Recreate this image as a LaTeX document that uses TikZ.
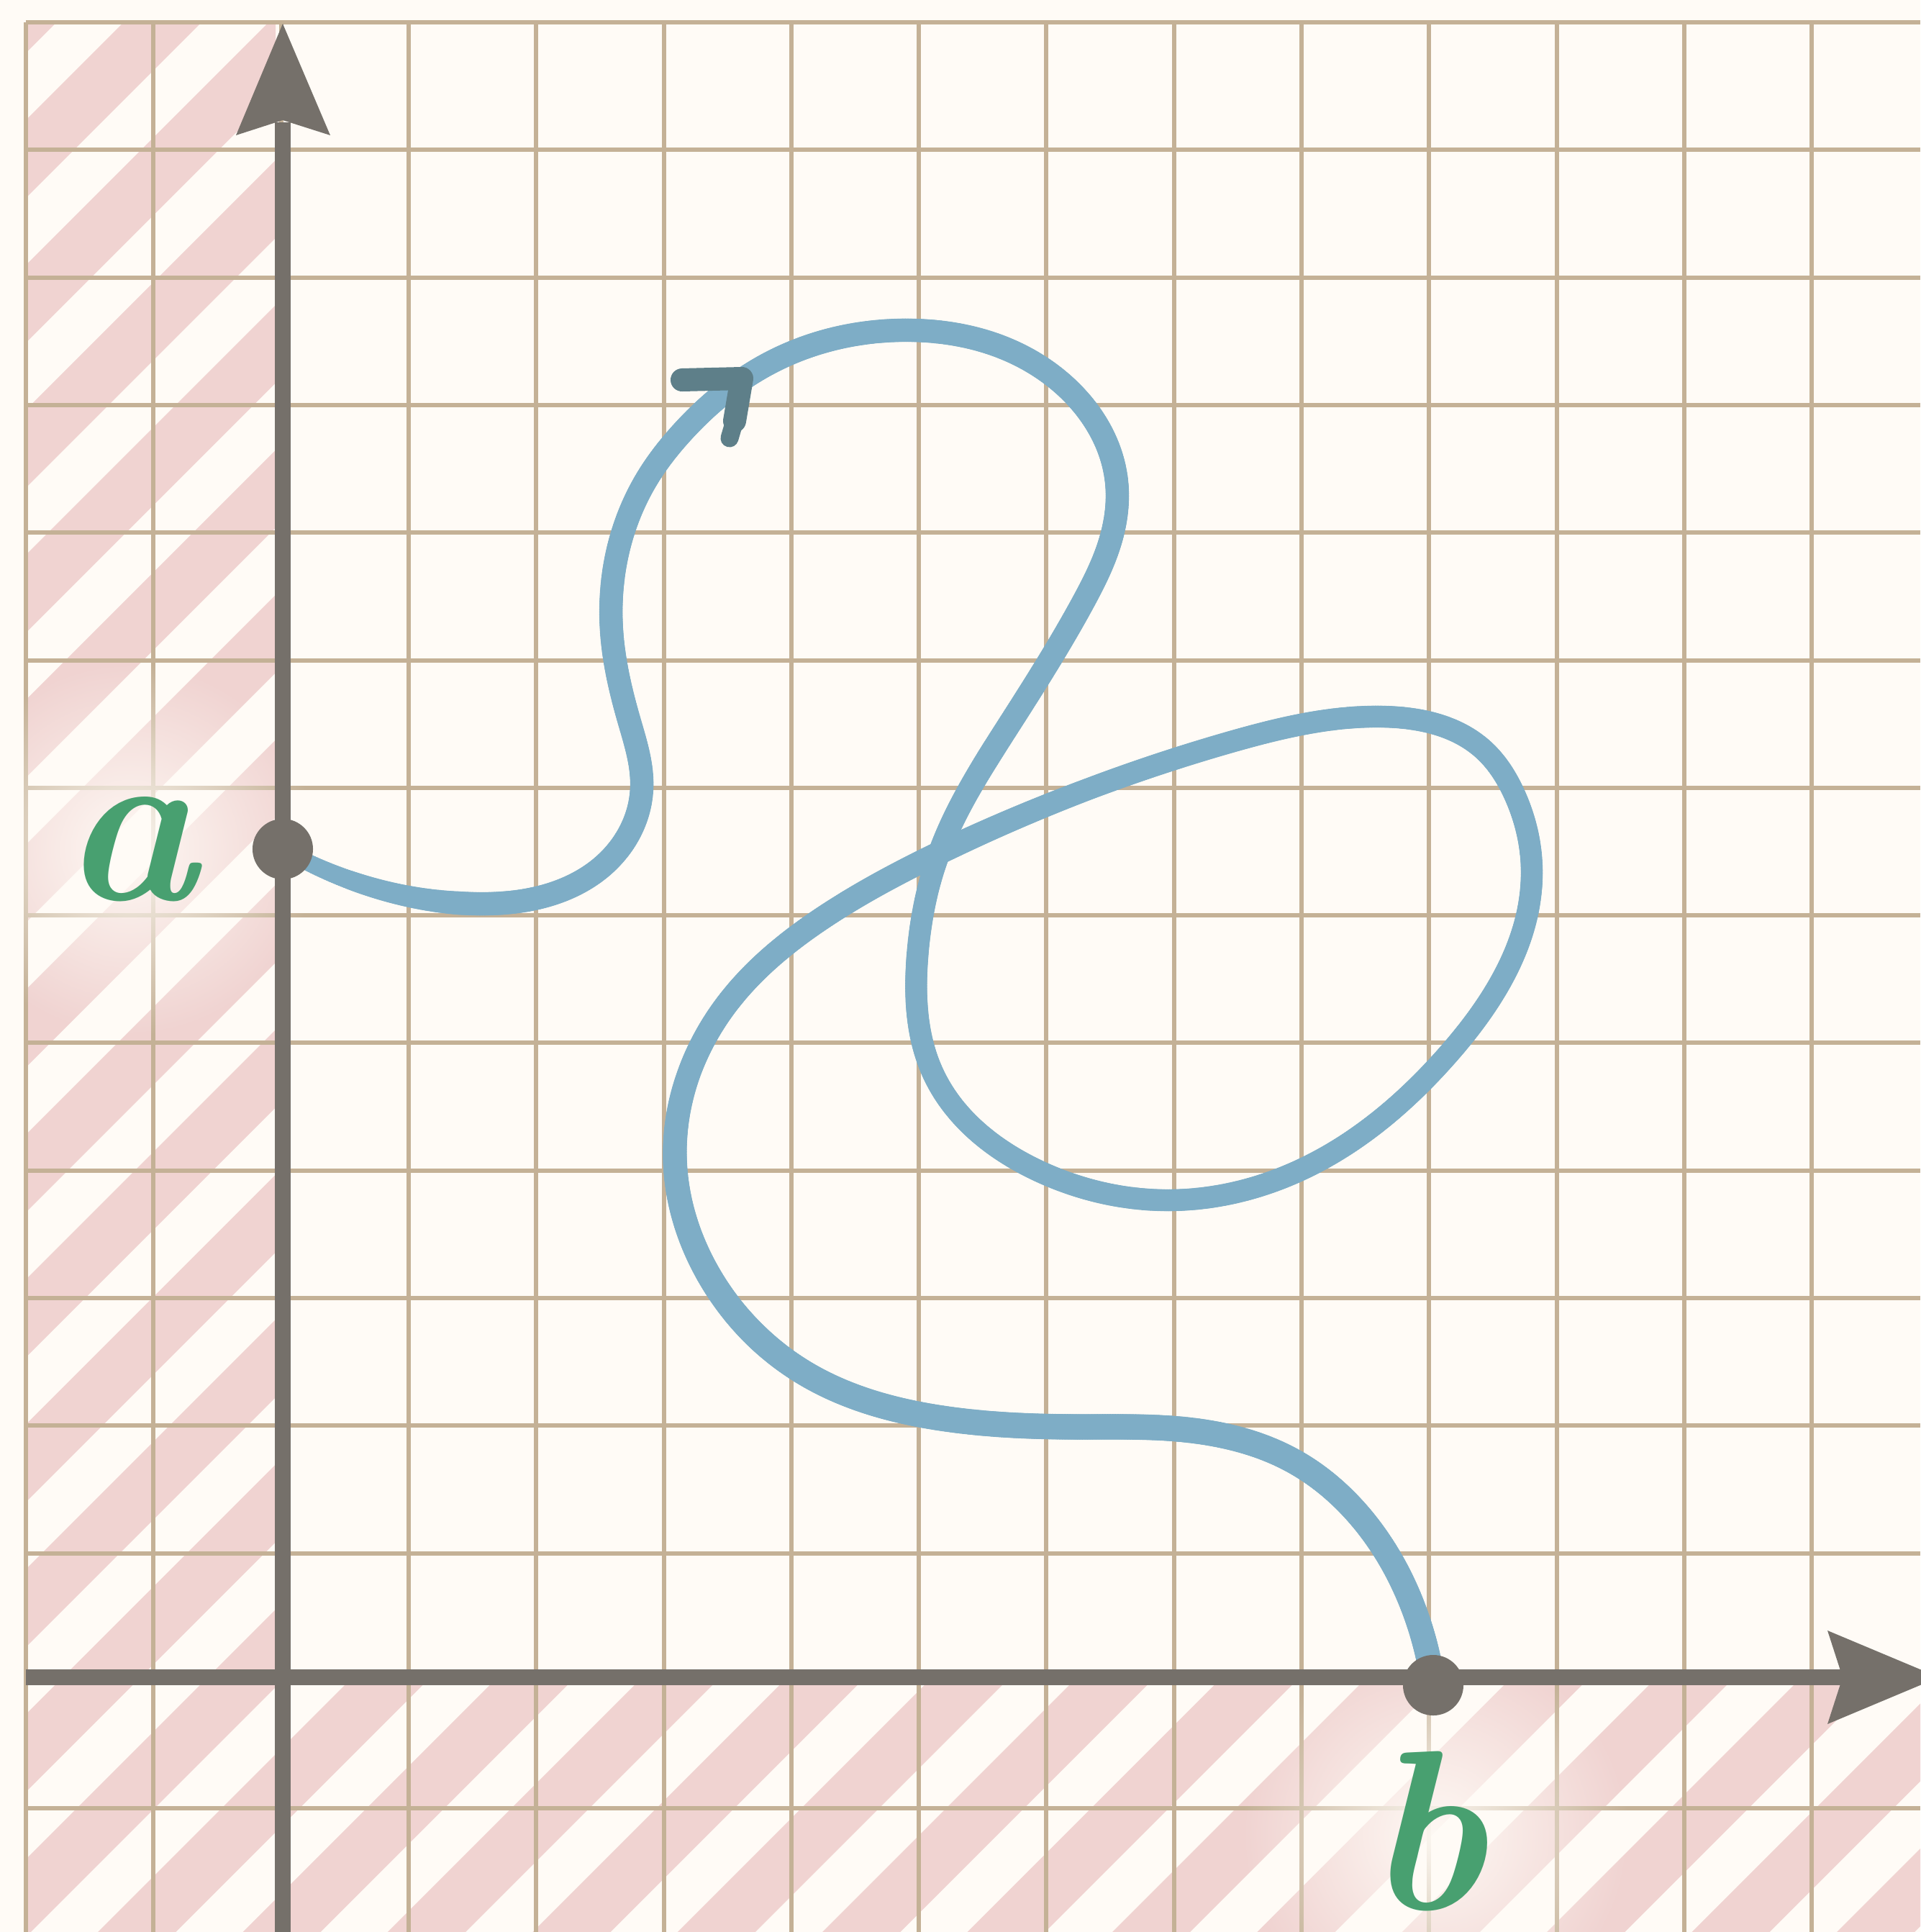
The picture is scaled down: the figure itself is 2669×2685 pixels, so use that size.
\documentclass[tikz,border=0pt]{standalone}
\usepackage{fontspec}
\usetikzlibrary{calc,fadings,hobby,decorations.markings}

\definecolor{bg}{HTML}{FFFBF6}
\definecolor{gridc}{HTML}{C4B196}
\definecolor{pinkc}{HTML}{F0D3D1}
\definecolor{axisc}{HTML}{75706A}
\definecolor{curvec}{HTML}{7EADC6}
\definecolor{arrowc}{HTML}{5E7F89}
\definecolor{labc}{HTML}{48A070}

\tikzfading[name=halofade, inner color=transparent!5, outer color=transparent!100]

\tikzset{
  gridline/.style={draw=gridc, line width=0.06cm},
  stripe/.style={draw=pinkc, line width=0.764cm},
  axisline/.style={draw=axisc, line width=0.22cm},
  axishead/.style={fill=axisc},
  dotnode/.style={circle, fill=axisc, inner sep=0pt, minimum size=0.84cm},
  markarm/.style={draw=arrowc, line cap=round, line join=round},
  lab/.style={text=labc, inner sep=0pt, font=\fontsize{90}{100}\selectfont\bfseries\itshape},
  halo/.style={fill=bg, path fading=halofade},
  brush/.style={decorate, decoration={markings,
    mark=between positions 0 and 1 step 0.035cm with {
      \pgfmathsetmacro\dd{\pgfkeysvalueof{/pgf/decoration/mark info/sequence number}*3.5}
      \pgfmathsetmacro\rr{wid(\dd)*0.142265}
      \fill[curvec] (0,0) circle (\rr pt);
    }}}
}

\begin{document}
\begin{tikzpicture}[x=0.01cm,y=-0.01cm,
  declare function={rmp(\d,\a,\b)=min(max((\d-\a)/(\b-\a),0),1);
    wid(\d)=22+10.5*rmp(\d,0,260)-2*rmp(\d,2300,2500)+2*rmp(\d,4650,4850)+3*rmp(\d,5350,5750)-1*rmp(\d,6450,6700);}]
\useasboundingbox (0,0) rectangle (2669,2685);
\fill[bg] (0,0) rectangle (2669,2685);

% hatched regions
\begin{scope}
  \clip (36,31) rectangle (383,2331) (36,2331) rectangle (2669,2685);
  \foreach \k in {-1,...,27}{
    \pgfmathsetmacro\c{257+201.4*\k}
    \draw[stripe] (\c,0) -- ({\c-2900},2900);
  }
\end{scope}

% grid
\foreach \i in {0,...,14}{
  \draw[gridline] ({36+177.3*\i},31) -- ({36+177.3*\i},2685);
}
\foreach \j in {0,...,14}{
  \draw[gridline] (36,{31+177.3*\j}) -- (2669,{31+177.3*\j});
}

% halos behind labels
\fill[halo] (180,1180) circle (260);
\fill[halo] (1995,2550) circle (270);

% axes
\draw[axisline] (393,2700) -- (393,170);
\fill[axishead] (393,33) -- (459,188) -- (393,167) -- (328,188) -- cycle;
\draw[axisline] (36,2331) -- (2570,2331);
\fill[axishead] (2695,2331) -- (2540,2396) -- (2561,2331) -- (2540,2266) -- cycle;

% end points (named)
\coordinate (pa) at (393,1180);
\coordinate (pb) at (1992,2342);

% the curve, with a brush whose width varies along it
\path[use Hobby shortcut, brush]
  (pa) .. (520,1234) .. (661,1256) .. (765,1243) .. (844,1198) .. (892,1095)
  .. (874,1000) .. (850,876) .. (900,664) .. (948,601) .. (1067,506)
  .. (1267,459) .. (1386,480) .. (1482,538) .. (1552,670) .. (1542,756)
  .. (1506,836) .. (1402,1008) .. (1304,1189) .. (1275,1330) .. (1297,1492)
  .. (1445,1628) .. (1627,1668) .. (1816,1622) .. (2013,1465) .. (2129,1210)
  .. (2104,1102) .. (2062,1042) .. (1922,996) .. (1711,1031) .. (1431,1129)
  .. (1300,1188) .. (1143,1276) .. (1009,1397) .. (938,1609) .. (984,1770)
  .. (1118,1908) .. (1309,1971) .. (1500,1983) .. (1638,1986) .. (1795,2029)
  .. (1895,2113) .. (1965,2236) .. (pb);

% direction mark on the curve
\coordinate (m1) at (948,528);
\coordinate (m2) at (1031,526);
\coordinate (m4) at (1021,585);
\coordinate (m5) at (1014,609);
\draw[markarm, line width=0.32cm] (m1) -- (m2) -- (m4);
\draw[markarm, line width=0.25cm] (m4) -- (m5);

% end point dots
\node[dotnode] (A) at (pa) {};
\node[dotnode] (B) at (pb) {};

% labels
\node[lab, anchor=base] (la) at (180,1250) {a};
\node[lab, anchor=base] (lb) at (1982,2653) {b};
\end{tikzpicture}
\end{document}
